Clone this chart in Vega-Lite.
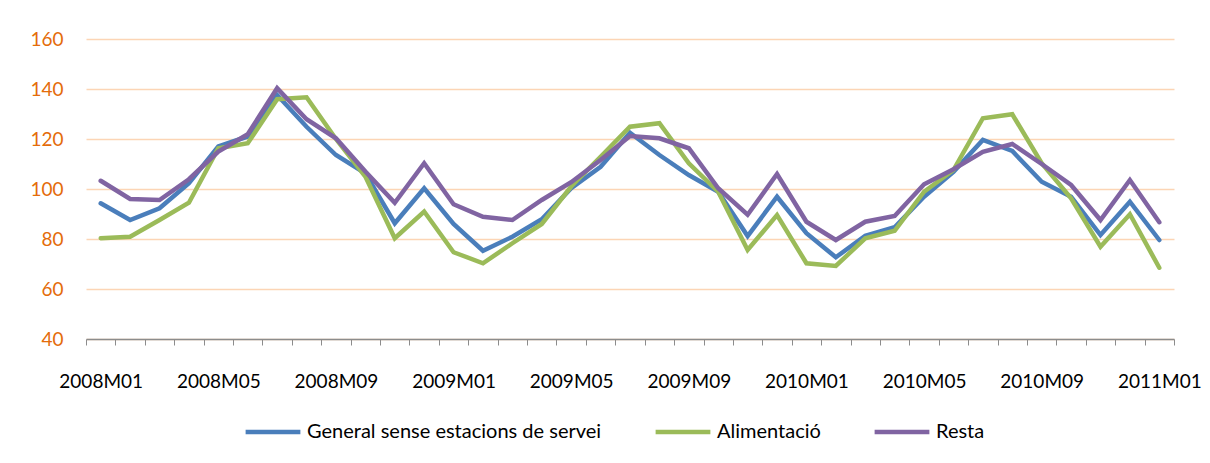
{
  "$schema": "https://vega.github.io/schema/vega-lite/v6.json",
  "width": 1088,
  "height": 300,
  "autosize": "none",
  "padding": {"left": 86, "top": 39, "right": 36, "bottom": 124},
  "background": "white",
  "config": {
    "font": "Lato",
    "view": {"stroke": null}
  },
  "data": {
    "values": [
      {"mes": "2008M01", "g": 94.3, "a": 80.3, "r": 103.3},
      {"mes": "2008M02", "g": 87.6, "a": 80.9, "r": 96.0},
      {"mes": "2008M03", "g": 92.3, "a": 87.6, "r": 95.6},
      {"mes": "2008M04", "g": 102.3, "a": 94.5, "r": 103.9},
      {"mes": "2008M05", "g": 117.0, "a": 116.3, "r": 115.0},
      {"mes": "2008M06", "g": 121.0, "a": 118.3, "r": 121.9},
      {"mes": "2008M07", "g": 137.6, "a": 135.9, "r": 140.3},
      {"mes": "2008M08", "g": 124.9, "a": 136.7, "r": 127.9},
      {"mes": "2008M09", "g": 113.6, "a": 120.0, "r": 120.3},
      {"mes": "2008M10", "g": 106.3, "a": 105.0, "r": 107.0},
      {"mes": "2008M11", "g": 86.3, "a": 80.3, "r": 94.5},
      {"mes": "2008M12", "g": 100.3, "a": 91.0, "r": 110.3},
      {"mes": "2009M01", "g": 86.0, "a": 74.7, "r": 93.9},
      {"mes": "2009M02", "g": 75.3, "a": 70.3, "r": 88.9},
      {"mes": "2009M03", "g": 80.9, "a": 78.3, "r": 87.6},
      {"mes": "2009M04", "g": 87.9, "a": 86.0, "r": 95.6},
      {"mes": "2009M05", "g": 100.3, "a": 101.0, "r": 102.7},
      {"mes": "2009M06", "g": 108.9, "a": 112.9, "r": 111.6},
      {"mes": "2009M07", "g": 122.5, "a": 124.9, "r": 121.2},
      {"mes": "2009M08", "g": 113.6, "a": 126.3, "r": 120.3},
      {"mes": "2009M09", "g": 105.6, "a": 110.3, "r": 116.3},
      {"mes": "2009M10", "g": 98.9, "a": 98.9, "r": 100.3},
      {"mes": "2009M11", "g": 81.2, "a": 75.6, "r": 89.7},
      {"mes": "2009M12", "g": 96.9, "a": 89.6, "r": 106.0},
      {"mes": "2010M01", "g": 82.3, "a": 70.3, "r": 86.9},
      {"mes": "2010M02", "g": 72.7, "a": 69.2, "r": 79.6},
      {"mes": "2010M03", "g": 81.3, "a": 80.3, "r": 86.9},
      {"mes": "2010M04", "g": 84.7, "a": 83.3, "r": 89.2},
      {"mes": "2010M05", "g": 96.9, "a": 98.9, "r": 101.9},
      {"mes": "2010M06", "g": 106.9, "a": 107.6, "r": 107.9},
      {"mes": "2010M07", "g": 119.6, "a": 128.3, "r": 114.9},
      {"mes": "2010M08", "g": 115.2, "a": 129.9, "r": 118.0},
      {"mes": "2010M09", "g": 102.9, "a": 110.3, "r": 110.0},
      {"mes": "2010M10", "g": 96.9, "a": 96.3, "r": 101.6},
      {"mes": "2010M11", "g": 81.6, "a": 76.9, "r": 87.6},
      {"mes": "2010M12", "g": 94.9, "a": 89.9, "r": 103.6},
      {"mes": "2011M01", "g": 79.6, "a": 68.5, "r": 86.7}
    ]
  },
  "transform": [
    {"fold": ["g", "a", "r"], "as": ["clau", "valor"]},
    {"lookup": "clau", "from": {"data": {"values": [
      {"clau": "g", "serie": "General sense estacions de servei"},
      {"clau": "a", "serie": "Alimentació"},
      {"clau": "r", "serie": "Resta"}
    ]}, "key": "clau", "fields": ["serie"]}}
  ],
  "mark": {"type": "line", "strokeWidth": 4.5, "strokeCap": "round"},
  "encoding": {
    "x": {
      "field": "mes",
      "type": "ordinal",
      "scale": {"type": "band", "paddingInner": 0, "paddingOuter": 0},
      "axis": {
        "title": null,
        "labelAngle": 0,
        "labelOverlap": false,
        "labelExpr": "isString(datum.value) && indexof(['01','05','09'], substring(datum.value, 5, 7)) >= 0 ? datum.value : ''",
        "labelFont": "Lato",
        "labelFontSize": 19,
        "labelColor": "#000000",
        "labelPadding": 27,
        "tickBand": "extent",
        "tickSize": 6,
        "tickColor": "#8c8c8c",
        "domainColor": "#8c8c8c",
        "domainWidth": 1.5,
        "grid": false
      }
    },
    "y": {
      "field": "valor",
      "type": "quantitative",
      "scale": {"domain": [40, 160], "nice": false, "zero": false},
      "axis": {
        "title": null,
        "values": [40, 60, 80, 100, 120, 140, 160],
        "labelFont": "Lato",
        "labelFontSize": 19,
        "labelColor": "#E46C0A",
        "labelPadding": 23,
        "ticks": false,
        "domain": false,
        "grid": true,
        "gridColor": "#FCD5B5",
        "gridWidth": 1.5
      }
    },
    "color": {
      "field": "serie",
      "type": "nominal",
      "scale": {
        "domain": ["General sense estacions de servei", "Alimentació", "Resta"],
        "range": ["#4A7EBB", "#9BBB59", "#8064A2"]
      },
      "legend": {
        "title": null,
        "orient": "none",
        "legendX": 157,
        "legendY": 363,
        "direction": "horizontal",
        "symbolType": "stroke",
        "symbolSize": 3000,
        "symbolStrokeWidth": 4.5,
        "labelFont": "Lato",
        "labelFontSize": 20,
        "labelLimit": 0,
        "labelColor": "#000000",
        "labelOffset": 4,
        "columnPadding": 44
      }
    }
  }
}
